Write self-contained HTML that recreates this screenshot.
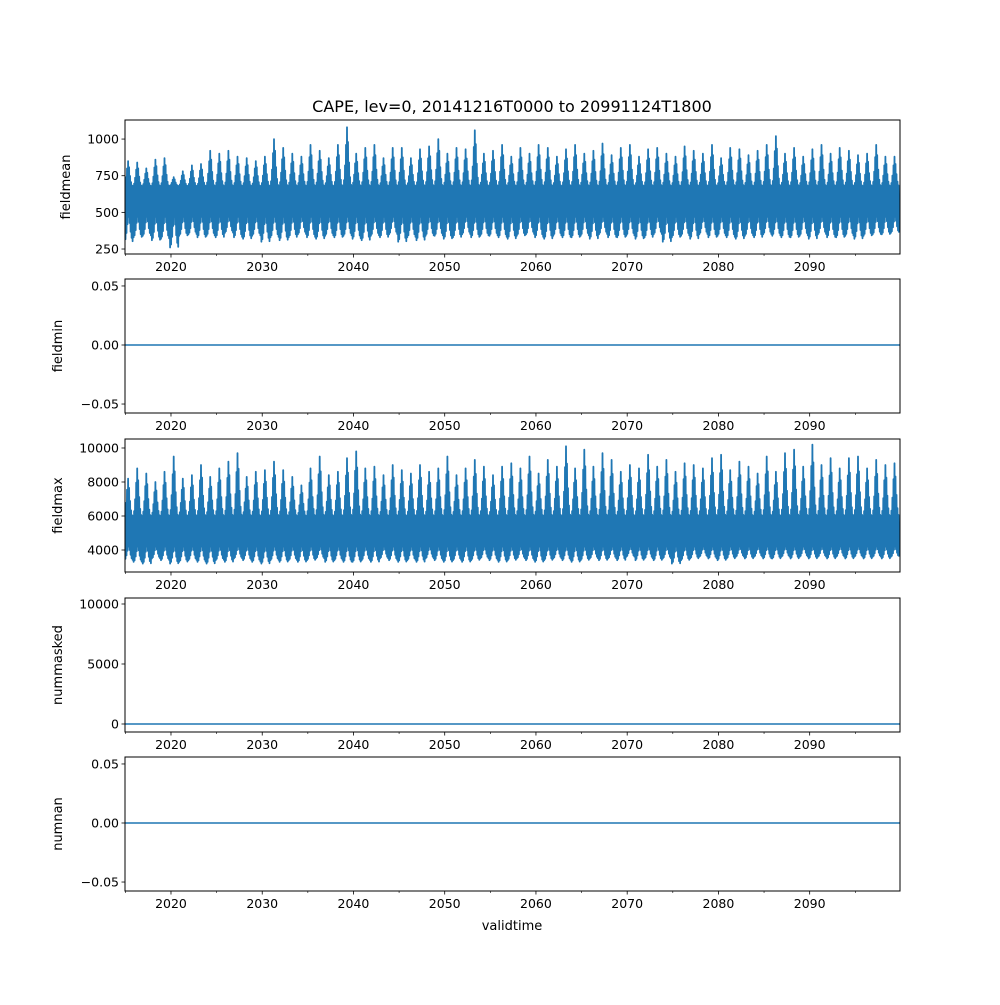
<!DOCTYPE html>
<html><head><meta charset="utf-8"><style>
body{margin:0;background:#fff;}
svg text{font-family:"DejaVu Sans","Liberation Sans",sans-serif;fill:#000;}
</style></head><body>
<svg id="chart" width="1000" height="1000" xmlns="http://www.w3.org/2000/svg">
<text x="512" y="112" font-size="16" text-anchor="middle">CAPE, lev=0, 20141216T0000 to 20991124T1800</text>
<text x="512" y="930" font-size="13" text-anchor="middle">validtime</text>
</svg>
<script>
// x ticks
const xTicks = [2020,2030,2040,2050,2060,2070,2080,2090];
const xMinor = [2015,2025,2035,2045,2055,2065,2075,2085,2095];
// fieldmean yearly peaks/troughs (2015..2099)
const meanPeaks = [850,840,800,860,870,740,780,820,830,920,900,920,880,870,850,880,1000,940,900,880,960,920,870,960,1080,900,940,960,870,940,940,870,930,950,1000,900,940,930,1060,900,920,960,880,940,900,960,940,880,930,960,900,920,970,890,940,960,880,930,940,900,880,950,920,900,960,870,940,930,890,920,960,1020,900,940,880,930,960,900,940,920,890,900,960,880,880];
const meanTroughs = [300,330,340,310,320,260,340,350,330,340,330,360,330,320,340,300,330,310,330,350,330,320,340,330,340,320,310,340,330,350,300,330,310,340,340,320,330,350,330,340,340,330,320,340,350,330,320,340,330,330,340,320,350,330,330,340,320,330,350,300,330,340,320,350,330,340,330,320,340,330,350,340,330,330,340,320,350,330,330,340,320,340,350,350,360];
const meanBand = [470, 680];
// fieldmax yearly peaks/troughs
const maxPeaks = [8200,8800,8500,8000,8600,9500,8200,8400,9000,8300,8800,9200,9700,8300,8600,8700,9200,8700,8300,7800,8800,9500,8400,8600,9400,9800,8800,8900,8400,9000,8700,8500,9000,8600,8800,9500,8400,8800,9300,8900,8400,8900,9100,8800,9500,8500,9300,8900,10100,8800,9900,8900,9700,9300,8600,9000,8800,9600,8900,9300,8600,9100,9000,8800,9400,9600,8700,9200,8900,8500,9500,8600,9700,9900,8900,10200,9000,9400,8800,9400,9500,8800,9300,9000,9100];
const maxTroughs = [3400,3300,3200,3500,3400,3200,3300,3400,3300,3200,3400,3300,3500,3400,3300,3200,3400,3300,3400,3300,3400,3500,3300,3400,3300,3300,3400,3300,3500,3400,3300,3400,3300,3500,3400,3300,3400,3300,3400,3500,3400,3300,3400,3500,3400,3300,3400,3500,3400,3300,3400,3500,3400,3500,3400,3600,3400,3500,3400,3500,3200,3400,3500,3600,3500,3400,3500,3600,3500,3600,3500,3500,3600,3500,3600,3500,3600,3500,3600,3500,3600,3500,3600,3500,3600];
const maxBand = [4200, 6000];
// within-year seasonal envelope (0 = cold season, 1 = peak season)
const season = [0,0.1,0.35,0.7,1.0,0.75,0.4,0.15,0.02];
const zeroSeries = [0, 0];

const svg = document.getElementById('chart');
const NS = 'http://www.w3.org/2000/svg';
const X0 = 125, X1 = 900, XMIN = 2014.96, XMAX = 2099.9;
const xs = t => X0 + (t - XMIN) / (XMAX - XMIN) * (X1 - X0);
function mk(tag, attrs, parent){const e=document.createElementNS(NS,tag);for(const k in attrs)e.setAttribute(k,attrs[k]);(parent||svg).appendChild(e);return e;}

const panels = [
 {name:'fieldmean', top:120, bot:254, lo:216, hi:1130, ticks:[250,500,750,1000], labels:['250','500','750','1000'], lx:70},
 {name:'fieldmin', top:279, bot:413, lo:-0.0576, hi:0.0559, ticks:[-0.05,0,0.05], labels:['\u22120.05','0.00','0.05'], lx:62},
 {name:'fieldmax', top:439, bot:572, lo:2706, hi:10529, ticks:[4000,6000,8000,10000], labels:['4000','6000','8000','10000'], lx:62},
 {name:'nummasked', top:598, bot:732, lo:-667, hi:10500, ticks:[0,5000,10000], labels:['0','5000','10000'], lx:62},
 {name:'numnan', top:757, bot:891, lo:-0.0576, hi:0.0559, ticks:[-0.05,0,0.05], labels:['\u22120.05','0.00','0.05'], lx:62}
];

panels.forEach((p,pi)=>{
  const g = mk('g',{});
  
  
  const ys = v => p.bot - (v - p.lo)/(p.hi - p.lo)*(p.bot - p.top);
  const clipId='c'+pi;
  const cp=mk('clipPath',{id:clipId},g); mk('rect',{x:X0,y:p.top,width:X1-X0,height:p.bot-p.top},cp);
  let pts=[];
  if(pi===0||pi===2){
    const peaks = pi===0?meanPeaks:maxPeaks, troughs = pi===0?meanTroughs:maxTroughs, band = pi===0?meanBand:maxBand;
    for(let i=0;i<peaks.length;i++){
      const t0 = 2015 + i - 0.15;
      const n = season.length;
      for(let j=0;j<n;j++){
        const e = season[j];
        const up = band[1] + e*(peaks[i]-band[1]);
        const dn = band[0] - (1-e)*(band[0]-troughs[i]);
        pts.push([t0 + j/n, up]);
        pts.push([t0 + (j+0.5)/n, dn]);
      }
    }
  } else {
    pts = [[XMIN, zeroSeries[0]],[XMAX, zeroSeries[1]]];
  }
  const line = mk('polyline',{points:pts.map(q=>xs(q[0]).toFixed(1)+','+ys(q[1]).toFixed(1)).join(' '),fill:'none',stroke:'#1f77b4','stroke-width':pi===0||pi===2?1.8:1.5,'stroke-linejoin':'round','clip-path':'url(#'+clipId+')'},g);
  
  
  mk('rect',{x:X0,y:p.top,width:X1-X0,height:p.bot-p.top,fill:'none',stroke:'#000','stroke-width':1},g);
  xTicks.forEach(t=>{
    const x=xs(t);
    mk('line',{x1:x,x2:x,y1:p.bot,y2:p.bot+3.5,stroke:'#000','stroke-width':0.8},g);
    const tx=mk('text',{x:x,y:p.bot+17,'font-size':12.5,'text-anchor':'middle'},g); tx.textContent=t;
  });
  xMinor.forEach(t=>{const x=xs(t); mk('line',{x1:x,x2:x,y1:p.bot,y2:p.bot+2,stroke:'#000','stroke-width':0.6},g);});
  p.ticks.forEach((v,k)=>{
    const y=ys(v);
    mk('line',{x1:X0-3.5,x2:X0,y1:y,y2:y,stroke:'#000','stroke-width':0.8},g);
    const tx=mk('text',{x:X0-6,y:y+4.5,'font-size':12.5,'text-anchor':'end'},g); tx.textContent=p.labels[k];
  });
  const yl=mk('text',{x:0,y:0,'font-size':13,'text-anchor':'middle',transform:'translate('+p.lx+','+((p.top+p.bot)/2)+') rotate(-90)'},g);
  yl.textContent=p.name;
  
  
});
</script>
</body></html>
